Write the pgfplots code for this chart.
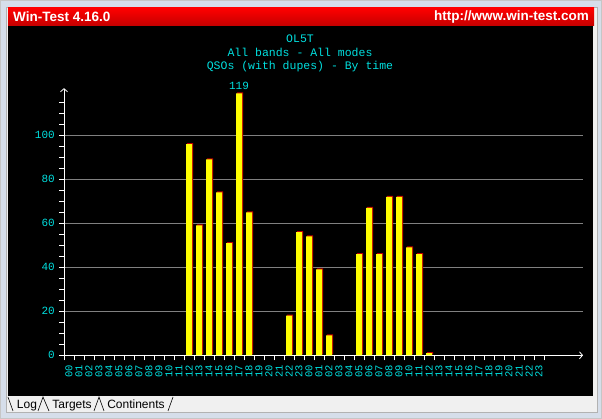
\documentclass[border=0pt]{standalone}
\usepackage{pgfplots}
\pgfplotsset{compat=1.18}
\usepackage{pgfplotstable}
\usepackage{fontspec}
\setmainfont{Liberation Sans}
\setmonofont{Liberation Mono}
\usetikzlibrary{arrows.meta}
\definecolor{wtcyan}{HTML}{00E0E0}
\definecolor{wframe}{HTML}{D6DEEA}
\definecolor{wstrip}{HTML}{F0F0F0}
\definecolor{wtred}{HTML}{FF0000}
\definecolor{wtdred}{HTML}{C40000}
\definecolor{barred}{HTML}{C00000}
\definecolor{gridgray}{HTML}{808080}
\definecolor{baryellow}{HTML}{FFFF00}
\pgfplotstableread{
x y
12 96
13 59
14 89
15 74
16 51
17 119
18 65
22 18
23 56
24 54
25 39
26 9
29 46
30 67
31 46
32 72
33 72
34 49
35 46
36 1
}\qsos
\begin{document}
\begin{tikzpicture}[x=1pt,y=1pt]
\path[use as bounding box] (0,0) rectangle (602,419);
\fill[wframe] (0,0) rectangle (602,419);
\draw[gray!45,line width=0.6pt] (0.5,0.5) rectangle (601.5,418.5);
\fill[wstrip] (6,7) rectangle (597,412);
\draw[gray!60,line width=0.5pt] (6,7) rectangle (597,412);
\shade[top color=wtred,bottom color=wtdred] (8,393) rectangle (594,411);
\fill[black] (8,23) rectangle (593,393);
\node[anchor=west,text=white,font=\bfseries\fontsize{13.5}{15}\selectfont,inner sep=0pt] at (13,402) {Win-Test 4.16.0};
\node[anchor=east,text=white,font=\bfseries\fontsize{13.5}{15}\selectfont,inner sep=0pt] at (589,402) {http://www.win-test.com};
\node[text=wtcyan,font=\ttfamily\fontsize{11.5}{13}\selectfont,inner sep=0pt] at (300,380.7) {OL5T};
\node[text=wtcyan,font=\ttfamily\fontsize{11.5}{13}\selectfont,inner sep=0pt] at (300,366.3) {All bands - All modes};
\node[text=wtcyan,font=\ttfamily\fontsize{11.5}{13}\selectfont,inner sep=0pt] at (300,352.3) {QSOs (with dupes) - By time};
% tabs
\draw[black,line width=0.6pt] (8,22) -- (13,8) (38,8) -- (43,22) -- (49,8) (94,8) -- (99,22) -- (104,8) (168,8) -- (173,22);
\node[anchor=base,font=\fontsize{12}{14}\selectfont,inner sep=0pt] at (27,10.5) {Log};
\node[anchor=base,font=\fontsize{12}{14}\selectfont,inner sep=0pt] at (72,10.5) {Targets};
\node[anchor=base,font=\fontsize{12}{14}\selectfont,inner sep=0pt] at (136,10.5) {Continents};
\begin{axis}[
  at={(69pt,63.7pt)}, anchor=origin,
  scale only axis, width=519pt, height=267.1pt,
  xmin=-0.5, xmax=51.4, ymin=0, ymax=121.4,
  axis x line=bottom, axis y line=left,
  axis line style={white, line width=0.8pt, -{Straight Barb[length=3pt,width=7pt]}},
  xtick={0,...,47},
  xticklabels={00,01,02,03,04,05,06,07,08,09,10,11,12,13,14,15,16,17,18,19,20,21,22,23,00,01,02,03,04,05,06,07,08,09,10,11,12,13,14,15,16,17,18,19,20,21,22,23},
  major x tick style={draw=none},
  minor xtick={-0.5,0.5,...,47.5},
  ytick={0,20,...,100}, minor ytick={5,10,...,115},
  tick align=outside, major tick length=5pt, minor tick length=5pt,
  every tick/.style={white, line width=0.8pt},
  ymajorgrids, grid style={gridgray, line width=0.8pt},
  /pgf/number format/assume math mode=true,
  xticklabel shift=4.5pt,
  xticklabel style={rotate=90, anchor=east, font=\ttfamily\fontsize{10.5}{10.5}\selectfont, text=wtcyan, inner sep=0pt},
  yticklabel style={font=\ttfamily\fontsize{11}{11}\selectfont, text=wtcyan, inner sep=0pt, xshift=-4pt},
]
\addplot[ybar, bar width=6pt, bar shift=0pt, fill=barred, draw=none, xshift=1pt, yshift=1pt] table {\qsos};
\addplot[ybar, bar width=6pt, bar shift=0pt, fill=baryellow, draw=none] table {\qsos};
\addplot[ybar, bar width=6pt, bar shift=0pt, draw=none, fill=none, nodes near coords,
  nodes near coords style={text=wtcyan, font=\ttfamily\fontsize{11}{11}\selectfont, inner sep=4pt, /pgf/number format/assume math mode=true}] coordinates {(17,119)};
\end{axis}
\end{tikzpicture}
\end{document}
